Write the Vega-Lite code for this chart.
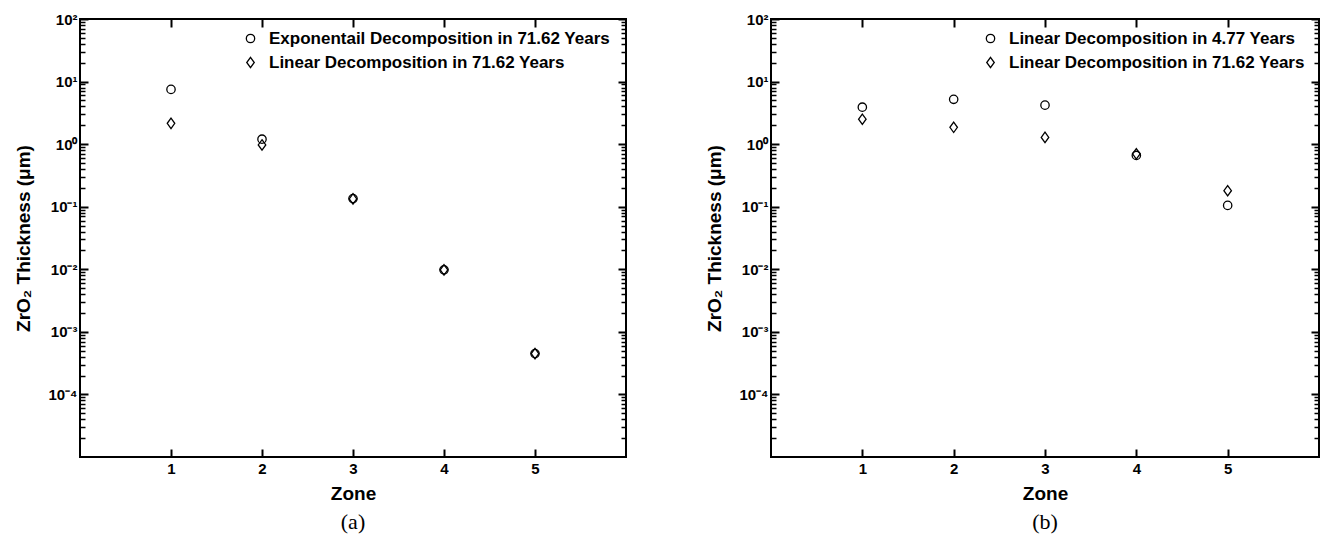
{
  "$schema": "https://vega.github.io/schema/vega-lite/v6.json",
  "background": "white",
  "padding": {"left": 13, "top": 11, "right": 4, "bottom": 4},
  "config": {
    "font": "Liberation Sans",
    "view": {"stroke": "black", "strokeWidth": 2},
    "axis": {
      "domain": false, "grid": false,
      "labelFont": "Liberation Sans", "labelFontWeight": "bold", "labelFontSize": 15, "labelColor": "black",
      "titleFont": "Liberation Sans", "titleFontWeight": "bold", "titleFontSize": 19, "titleColor": "black"
    },
    "legend": {
      "orient": "none", "padding": 0, "title": null, "labelLimit": 0,
      "labelFont": "Liberation Sans", "labelFontWeight": "bold", "labelFontSize": 17, "labelColor": "black",
      "labelOffset": 10, "rowPadding": 6,
      "symbolStrokeColor": "black", "symbolFillColor": "transparent", "symbolStrokeWidth": 1.3, "symbolSize": 70
    },
    "title": {"font": "Liberation Serif", "fontSize": 22, "fontWeight": "normal", "color": "black"}
  },
  "datasets": {
    "pts": [
      {"panel": "a", "series": "Exponentail Decomposition in 71.62 Years", "zone": 1, "thickness": 7.5},
      {"panel": "a", "series": "Exponentail Decomposition in 71.62 Years", "zone": 2, "thickness": 1.2},
      {"panel": "a", "series": "Exponentail Decomposition in 71.62 Years", "zone": 3, "thickness": 0.135},
      {"panel": "a", "series": "Exponentail Decomposition in 71.62 Years", "zone": 4, "thickness": 0.0098},
      {"panel": "a", "series": "Exponentail Decomposition in 71.62 Years", "zone": 5, "thickness": 0.00045},
      {"panel": "a", "series": "Linear Decomposition in 71.62 Years", "zone": 1, "thickness": 2.15},
      {"panel": "a", "series": "Linear Decomposition in 71.62 Years", "zone": 2, "thickness": 0.97},
      {"panel": "a", "series": "Linear Decomposition in 71.62 Years", "zone": 3, "thickness": 0.133},
      {"panel": "a", "series": "Linear Decomposition in 71.62 Years", "zone": 4, "thickness": 0.0098},
      {"panel": "a", "series": "Linear Decomposition in 71.62 Years", "zone": 5, "thickness": 0.00045},
      {"panel": "b", "series": "Linear Decomposition in 4.77 Years", "zone": 1, "thickness": 3.9},
      {"panel": "b", "series": "Linear Decomposition in 4.77 Years", "zone": 2, "thickness": 5.2},
      {"panel": "b", "series": "Linear Decomposition in 4.77 Years", "zone": 3, "thickness": 4.2},
      {"panel": "b", "series": "Linear Decomposition in 4.77 Years", "zone": 4, "thickness": 0.66},
      {"panel": "b", "series": "Linear Decomposition in 4.77 Years", "zone": 5, "thickness": 0.105},
      {"panel": "b", "series": "Linear Decomposition in 71.62 Years", "zone": 1, "thickness": 2.5},
      {"panel": "b", "series": "Linear Decomposition in 71.62 Years", "zone": 2, "thickness": 1.86},
      {"panel": "b", "series": "Linear Decomposition in 71.62 Years", "zone": 3, "thickness": 1.28},
      {"panel": "b", "series": "Linear Decomposition in 71.62 Years", "zone": 4, "thickness": 0.7},
      {"panel": "b", "series": "Linear Decomposition in 71.62 Years", "zone": 5, "thickness": 0.18}
    ]
  },
  "spacing": 76,
  "resolve": {"scale": {"shape": "independent"}},
  "hconcat": [
    {
      "width": 546, "height": 438,
      "title": {"text": "(a)", "orient": "bottom", "offset": 9},
      "data": {"name": "pts"},
      "transform": [{"filter": "datum.panel === 'a'"}],
      "resolve": {"axis": {"x": "independent", "y": "independent"}},
      "layer": [
        {
          "mark": {"type": "point", "filled": false, "stroke": "black", "strokeWidth": 1.3, "size": 70, "opacity": 1},
          "encoding": {
            "x": {"field": "zone", "type": "quantitative", "scale": {"domain": [0, 6], "nice": false},
              "axis": {"orient": "bottom", "values": [1, 2, 3, 4, 5], "offset": -8, "ticks": true, "tickSize": 8, "tickColor": "black", "tickWidth": 2, "labelPadding": 4, "title": "Zone", "titlePadding": 8}},
            "y": {"field": "thickness", "type": "quantitative", "scale": {"type": "log", "domain": [0.00001, 100], "nice": false},
              "axis": {"orient": "left", "title": "ZrO₂ Thickness (μm)", "titlePadding": 14, "labelOverlap": false, "offset": -8, "ticks": true, "tickSize": 8, "tickColor": "black", "tickWidth": 2, "labelPadding": 3,
                "values": [0.0001, 0.001, 0.01, 0.1, 1, 10, 100],
                "labelExpr": "'10' + ['⁻⁴','⁻³','⁻²','⁻¹','⁰','¹','²'][round(log(datum.value)/LN10)+4]"}},
            "shape": {"field": "series", "type": "nominal",
              "scale": {"domain": ["Exponentail Decomposition in 71.62 Years", "Linear Decomposition in 71.62 Years"], "range": ["circle", "M0,-1.25L0.9,0L0,1.25L-0.9,0Z"]},
              "legend": {"legendX": 162, "legendY": 11}}
          }
        },
        {
          "mark": {"type": "point", "opacity": 0},
          "encoding": {
            "x": {"field": "zone", "type": "quantitative",
              "axis": {"orient": "top", "values": [1, 2, 3, 4, 5], "offset": -8, "ticks": true, "tickSize": 8, "tickColor": "black", "tickWidth": 2, "labels": false, "title": null}},
            "y": {"field": "thickness", "type": "quantitative",
              "axis": {"orient": "right", "title": null, "labels": false, "offset": -8, "ticks": true, "tickSize": 8, "tickColor": "black", "tickWidth": 2,
                "values": [0.0001, 0.001, 0.01, 0.1, 1, 10, 100]}}
          }
        },
        {
          "mark": {"type": "point", "opacity": 0},
          "encoding": {
            "x": {"field": "zone", "type": "quantitative", "axis": null},
            "y": {"field": "thickness", "type": "quantitative",
              "axis": {"orient": "left", "title": null, "labels": false, "offset": -5, "ticks": true, "tickSize": 5, "tickColor": "black", "tickWidth": 1.5,
                "values": [0.00002,0.00003,0.00004,0.00005,0.00006,0.00007,0.00008,0.00009,0.0002,0.0003,0.0004,0.0005,0.0006,0.0007,0.0008,0.0009,0.002,0.003,0.004,0.005,0.006,0.007,0.008,0.009,0.02,0.03,0.04,0.05,0.06,0.07,0.08,0.09,0.2,0.3,0.4,0.5,0.6,0.7,0.8,0.9,2,3,4,5,6,7,8,9,20,30,40,50,60,70,80,90]}}
          }
        },
        {
          "mark": {"type": "point", "opacity": 0},
          "encoding": {
            "x": {"field": "zone", "type": "quantitative", "axis": null},
            "y": {"field": "thickness", "type": "quantitative",
              "axis": {"orient": "right", "title": null, "labels": false, "offset": -5, "ticks": true, "tickSize": 5, "tickColor": "black", "tickWidth": 1.5,
                "values": [0.00002,0.00003,0.00004,0.00005,0.00006,0.00007,0.00008,0.00009,0.0002,0.0003,0.0004,0.0005,0.0006,0.0007,0.0008,0.0009,0.002,0.003,0.004,0.005,0.006,0.007,0.008,0.009,0.02,0.03,0.04,0.05,0.06,0.07,0.08,0.09,0.2,0.3,0.4,0.5,0.6,0.7,0.8,0.9,2,3,4,5,6,7,8,9,20,30,40,50,60,70,80,90]}}
          }
        }
      ]
    },
    {
      "width": 548, "height": 438,
      "title": {"text": "(b)", "orient": "bottom", "offset": 9},
      "data": {"name": "pts"},
      "transform": [{"filter": "datum.panel === 'b'"}],
      "resolve": {"axis": {"x": "independent", "y": "independent"}},
      "layer": [
        {
          "mark": {"type": "point", "filled": false, "stroke": "black", "strokeWidth": 1.3, "size": 70, "opacity": 1},
          "encoding": {
            "x": {"field": "zone", "type": "quantitative", "scale": {"domain": [0, 6], "nice": false},
              "axis": {"orient": "bottom", "values": [1, 2, 3, 4, 5], "offset": -8, "ticks": true, "tickSize": 8, "tickColor": "black", "tickWidth": 2, "labelPadding": 4, "title": "Zone", "titlePadding": 8}},
            "y": {"field": "thickness", "type": "quantitative", "scale": {"type": "log", "domain": [0.00001, 100], "nice": false},
              "axis": {"orient": "left", "title": "ZrO₂ Thickness (μm)", "titlePadding": 14, "labelOverlap": false, "offset": -8, "ticks": true, "tickSize": 8, "tickColor": "black", "tickWidth": 2, "labelPadding": 3,
                "values": [0.0001, 0.001, 0.01, 0.1, 1, 10, 100],
                "labelExpr": "'10' + ['⁻⁴','⁻³','⁻²','⁻¹','⁰','¹','²'][round(log(datum.value)/LN10)+4]"}},
            "shape": {"field": "series", "type": "nominal",
              "scale": {"domain": ["Linear Decomposition in 4.77 Years", "Linear Decomposition in 71.62 Years"], "range": ["circle", "M0,-1.25L0.9,0L0,1.25L-0.9,0Z"]},
              "legend": {"legendX": 211, "legendY": 11}}
          }
        },
        {
          "mark": {"type": "point", "opacity": 0},
          "encoding": {
            "x": {"field": "zone", "type": "quantitative",
              "axis": {"orient": "top", "values": [1, 2, 3, 4, 5], "offset": -8, "ticks": true, "tickSize": 8, "tickColor": "black", "tickWidth": 2, "labels": false, "title": null}},
            "y": {"field": "thickness", "type": "quantitative",
              "axis": {"orient": "right", "title": null, "labels": false, "offset": -8, "ticks": true, "tickSize": 8, "tickColor": "black", "tickWidth": 2,
                "values": [0.0001, 0.001, 0.01, 0.1, 1, 10, 100]}}
          }
        },
        {
          "mark": {"type": "point", "opacity": 0},
          "encoding": {
            "x": {"field": "zone", "type": "quantitative", "axis": null},
            "y": {"field": "thickness", "type": "quantitative",
              "axis": {"orient": "left", "title": null, "labels": false, "offset": -5, "ticks": true, "tickSize": 5, "tickColor": "black", "tickWidth": 1.5,
                "values": [0.00002,0.00003,0.00004,0.00005,0.00006,0.00007,0.00008,0.00009,0.0002,0.0003,0.0004,0.0005,0.0006,0.0007,0.0008,0.0009,0.002,0.003,0.004,0.005,0.006,0.007,0.008,0.009,0.02,0.03,0.04,0.05,0.06,0.07,0.08,0.09,0.2,0.3,0.4,0.5,0.6,0.7,0.8,0.9,2,3,4,5,6,7,8,9,20,30,40,50,60,70,80,90]}}
          }
        },
        {
          "mark": {"type": "point", "opacity": 0},
          "encoding": {
            "x": {"field": "zone", "type": "quantitative", "axis": null},
            "y": {"field": "thickness", "type": "quantitative",
              "axis": {"orient": "right", "title": null, "labels": false, "offset": -5, "ticks": true, "tickSize": 5, "tickColor": "black", "tickWidth": 1.5,
                "values": [0.00002,0.00003,0.00004,0.00005,0.00006,0.00007,0.00008,0.00009,0.0002,0.0003,0.0004,0.0005,0.0006,0.0007,0.0008,0.0009,0.002,0.003,0.004,0.005,0.006,0.007,0.008,0.009,0.02,0.03,0.04,0.05,0.06,0.07,0.08,0.09,0.2,0.3,0.4,0.5,0.6,0.7,0.8,0.9,2,3,4,5,6,7,8,9,20,30,40,50,60,70,80,90]}}
          }
        }
      ]
    }
  ]
}
